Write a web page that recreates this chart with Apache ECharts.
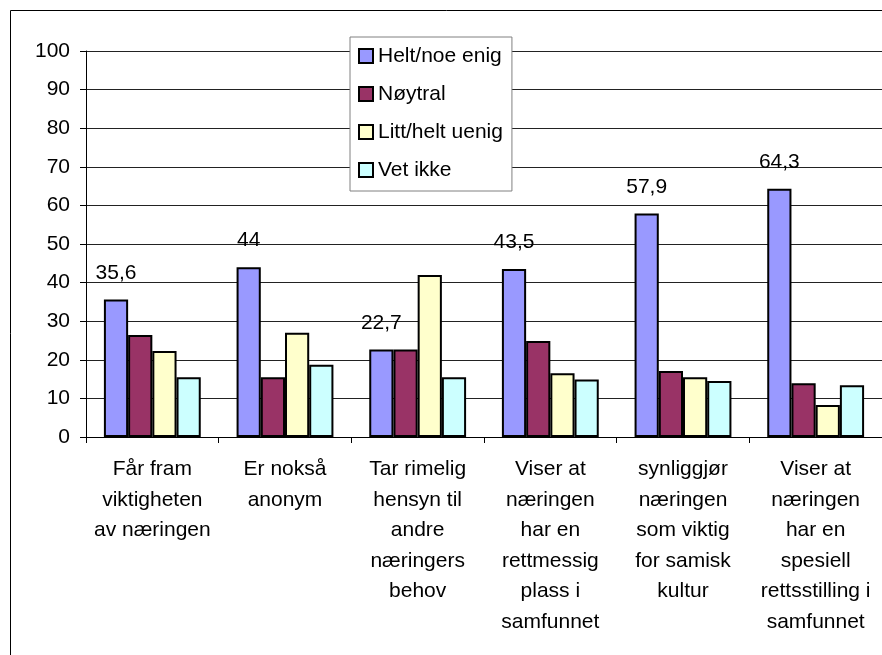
<!DOCTYPE html>
<html lang="no">
<head>
    <meta charset="UTF-8">
    <title>Næringen</title>
    <style>
        html, body {margin: 0; padding: 0; background: #fff;}
        #chart-box {width: 882px; height: 655px;}
    </style>
</head>
<body>
<section id="chart-box"></section>
<script src="https://cdn.jsdelivr.net/npm/echarts@6/dist/echarts.min.js"></script>
<script type="text/javascript">

    var categories = [
        'Får fram\nviktigheten\nav næringen',
        'Er nokså\nanonym',
        'Tar rimelig\nhensyn til\nandre\nnæringers\nbehov',
        'Viser at\nnæringen\nhar en\nrettmessig\nplass i\nsamfunnet',
        'synliggjør\nnæringen\nsom viktig\nfor samisk\nkultur',
        'Viser at\nnæringen\nhar en\nspesiell\nrettsstilling i\nsamfunnet'
    ];
    var seriesNames = ['Helt/noe enig', 'Nøytral', 'Litt/helt uenig', 'Vet ikke'];
    var enig = [35.6, 44, 22.7, 43.5, 57.9, 64.3];
    var noytral = [26.4, 15.5, 22.7, 24.9, 17.1, 13.9];
    var uenig = [22.3, 27.0, 42.0, 16.5, 15.5, 8.3];
    var vetIkke = [15.5, 18.7, 15.5, 14.9, 14.5, 13.4];
    var yTicks = [0, 10, 20, 30, 40, 50, 60, 70, 80, 90, 100];

    var colors = ['#9999ff', '#993366', '#ffffcc', '#ccffff'];
    var font = '"Liberation Sans", Arial, sans-serif';

    function barSeries(name, data, color, withLabel) {
        return {
            name: name,
            type: 'bar',
            data: data,
            barGap: '0%',
            barCategoryGap: '27%',
            itemStyle: {color: color, borderColor: '#000', borderWidth: 2},
            label: {
                show: withLabel,
                position: 'top',
                distance: 16,
                color: '#000',
                fontFamily: font,
                fontSize: 21,
                formatter: function (p) {
                    return String(p.value).replace('.', ',');
                }
            },
            emphasis: {disabled: true}
        };
    }

    var myChart = echarts.init(document.getElementById('chart-box'));

    myChart.setOption({
        animation: false,
        textStyle: {fontFamily: font},
        grid: {left: 86, top: 51, width: 806, height: 386},
        graphic: [{
            type: 'rect',
            shape: {x: 10.5, y: 10.5, width: 900, height: 700},
            style: {fill: null, stroke: '#000', lineWidth: 1},
            z: 0
        }],
        legend: {
            data: seriesNames,
            orient: 'vertical',
            left: 350,
            top: 37,
            icon: 'rect',
            itemWidth: 14,
            itemHeight: 14,
            itemGap: 14,
            padding: [7, 9, 9, 8],
            backgroundColor: '#fff',
            borderColor: '#808080',
            borderWidth: 1,
            textStyle: {color: '#000', fontSize: 21, lineHeight: 24, fontFamily: font},
            z: 10
        },
        xAxis: {
            type: 'category',
            data: categories,
            axisLine: {lineStyle: {color: '#000', width: 1}},
            axisTick: {show: true, length: 6, lineStyle: {color: '#000'}},
            axisLabel: {
                interval: 0,
                margin: 17,
                color: '#000',
                fontSize: 21,
                lineHeight: 30.5,
                align: 'center',
                fontFamily: font
            }
        },
        yAxis: {
            type: 'value',
            min: yTicks[0],
            max: yTicks[yTicks.length - 1],
            interval: 10,
            axisLine: {show: true, lineStyle: {color: '#000', width: 1}},
            axisTick: {show: true, length: 6, lineStyle: {color: '#000'}},
            axisLabel: {margin: 16, color: '#000', fontSize: 21, fontFamily: font},
            splitLine: {lineStyle: {color: '#222', width: 1}}
        },
        series: [
            barSeries(seriesNames[0], enig, colors[0], true),
            barSeries(seriesNames[1], noytral, colors[1], false),
            barSeries(seriesNames[2], uenig, colors[2], false),
            barSeries(seriesNames[3], vetIkke, colors[3], false)
        ]
    });
</script>
</body>
</html>
